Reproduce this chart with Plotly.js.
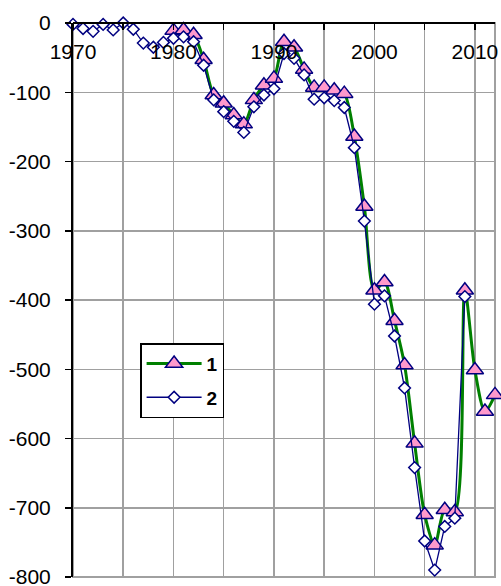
<!DOCTYPE html>
<html>
<head>
<meta charset="utf-8">
<script src="https://cdn.plot.ly/plotly-3.0.1.min.js"></script>
<style>
  html, body { margin: 0; padding: 0; background: #ffffff; }
  #chart { width: 501px; height: 586px; }
</style>
</head>
<body>
<div id="chart"></div>
<script>
// Series 1 (triangles, green line)
const years1 = [1980,1981,1982,1983,1984,1985,1986,1987,1988,1989,
                1990,1991,1992,1993,1994,1995,1996,1997,1998,1999,
                2000,2001,2002,2003,2004,2005,2006,2007,2008,2009,
                2010,2011,2012];
const series1 = [-11,-10,-17,-53,-104,-116,-133,-146,-111,-90,
                 -80,-27,-35,-67,-93,-93,-97,-102,-164,-265,
                 -386,-374,-430,-494,-607,-710,-754,-703,-706,-386,
                 -501,-561,-537];

// Series 2 (diamonds, navy line)
const years2 = [1970,1971,1972,1973,1974,1975,1976,1977,1978,1979,
                1980,1981,1982,1983,1984,1985,1986,1987,1988,1989,
                1990,1991,1992,1993,1994,1995,1996,1997,1998,1999,
                2000,2001,2002,2003,2004,2005,2006,2007,2008,2009];
const series2 = [-2,-8,-12,-2,-10,0,-9,-29,-35,-28,
                 -22,-20,-27,-61,-111,-128,-142,-158,-121,-104,
                 -95,-44,-51,-75,-110,-108,-112,-122,-180,-286,
                 -406,-394,-452,-527,-642,-748,-790,-727,-715,-395];

const seriesNames = ["1", "2"];

const xTickVals = [1970, 1980, 1990, 2000, 2010];
const xTickText = ["1970", "1980", "1990", "2000", "2010"];
const yTickVals = [0, -100, -200, -300, -400, -500, -600, -700, -800];
const yTickText = ["0", "-100", "-200", "-300", "-400", "-500", "-600", "-700", "-800"];

const FONT = "Arial, 'Liberation Sans', sans-serif";

const traces = [
  {
    x: years1, y: series1, name: seriesNames[0], legendgroup: "g1", type: "scatter", mode: "lines+markers",
    line: { color: "#008000", width: 3, shape: "spline", smoothing: 0.8 },
    marker: { symbol: "triangle-up", size: 15, color: "#ff99cc", line: { color: "#000080", width: 1.5 } },
    cliponaxis: false
  },
  {
    x: years2, y: series2, name: seriesNames[1], legendgroup: "g2", type: "scatter", mode: "lines+markers",
    line: { color: "#000080", width: 1.3 },
    marker: { symbol: "diamond", size: 9, color: "#ffffff", line: { color: "#000080", width: 1.5 } },
    cliponaxis: false
  }
];

const layout = {
  width: 501, height: 586,
  margin: { l: 73, r: 6, t: 23, b: 9, pad: 0 },
  paper_bgcolor: "#ffffff", plot_bgcolor: "#ffffff",
  font: { family: FONT, size: 21, color: "#000000" },
  showlegend: true,
  legend: {
    x: 0.159, y: 0.422, xanchor: "left", yanchor: "top",
    bgcolor: "#ffffff", bordercolor: "#000000", borderwidth: 1.5,
    font: { family: FONT, size: 19, color: "#000000", weight: "bold" },
    itemwidth: 55,
    tracegroupgap: 6
  },
  xaxis: {
    range: [1970, 2012],
    anchor: "free", position: 1, side: "bottom",
    tickvals: xTickVals, ticktext: xTickText,
    ticks: "outside", ticklen: 6, tickwidth: 1.5, tickcolor: "#000000",
    ticklabelstandoff: 4, ticklabeloverflow: "allow",
    showline: true, linecolor: "#000000", linewidth: 2,
    showgrid: true, gridcolor: "#a0a0a0", gridwidth: 1.5,
    minor: { dtick: 5, tick0: 1970, showgrid: true, gridcolor: "#a0a0a0", gridwidth: 1.5,
             ticks: "outside", ticklen: 6, tickcolor: "#000000", tickwidth: 1.5 },
    zeroline: false, fixedrange: true,
    tickfont: { family: FONT, size: 21, color: "#000000" }
  },
  yaxis: {
    range: [-800, 0],
    tickvals: yTickVals, ticktext: yTickText,
    ticks: "outside", ticklen: 6, tickwidth: 1.5, tickcolor: "#000000",
    ticklabelstandoff: 10, ticklabeloverflow: "allow",
    showline: true, linecolor: "#000000", linewidth: 2,
    showgrid: true, gridcolor: "#a0a0a0", gridwidth: 1.5,
    zeroline: false, fixedrange: true,
    tickfont: { family: FONT, size: 21, color: "#000000" }
  },
  shapes: [
    { type: "rect", xref: "paper", yref: "paper", x0: 0, x1: 1, y0: 0, y1: 1,
      line: { color: "#a0a0a0", width: 2 }, layer: "below" }
  ]
};

Plotly.newPlot("chart", traces, layout, { displayModeBar: false, staticPlot: true });
</script>
</body>
</html>
